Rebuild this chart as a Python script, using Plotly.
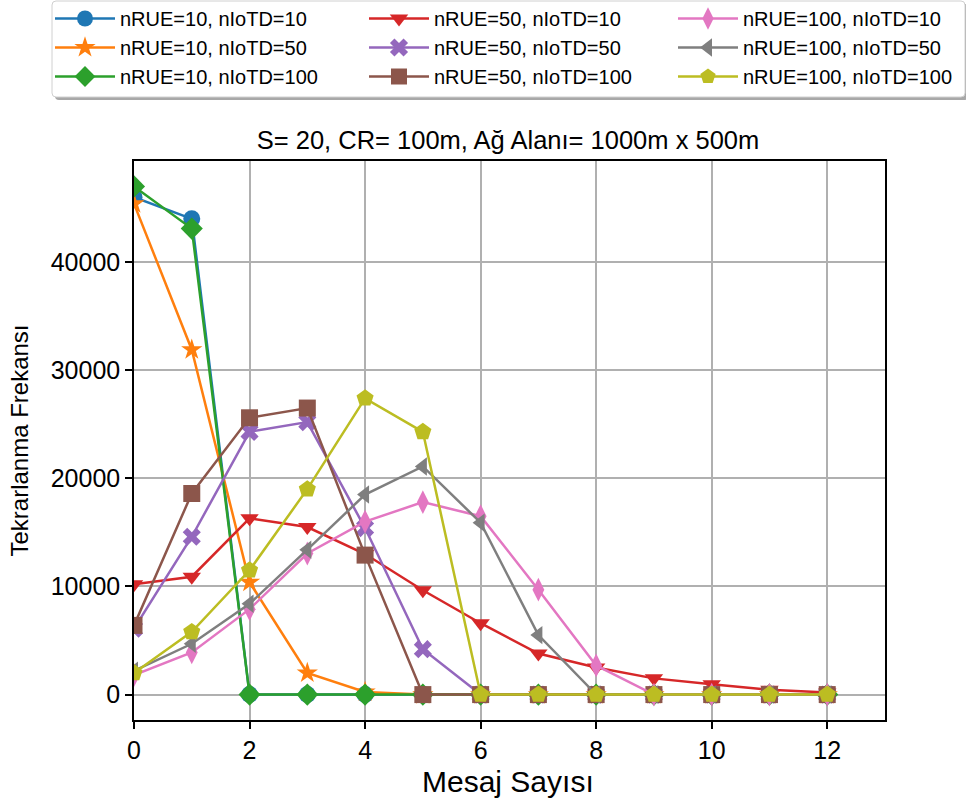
import plotly.graph_objects as go

# Message counts on the x axis
mesaj = list(range(13))

# Repetition frequency per configuration
n10_10 = [46000, 44000, 0, 0, 0, 0, 0, 0, 0, 0, 0, 0, 0]
n10_50 = [45400, 31900, 10400, 2000, 250, 0, 0, 0, 0, 0, 0, 0, 0]
n10_100 = [47000, 43100, 0, 0, 0, 0, 0, 0, 0, 0, 0, 0, 0]
n50_10 = [10200, 10900, 16300, 15500, 13000, 9650, 6600, 3800, 2500, 1500, 950, 450, 200]
n50_50 = [6100, 14600, 24300, 25200, 15400, 4200, 0, 0, 0, 0, 0, 0, 0]
n50_100 = [6400, 18600, 25600, 26500, 12900, 0, 0, 0, 0, 0, 0, 0, 0]
n100_10 = [1800, 3900, 7900, 13050, 16000, 17800, 16500, 9700, 2700, 0, 0, 0, 0]
n100_50 = [2200, 4700, 8400, 13400, 18500, 21100, 15900, 5500, 0, 0, 0, 0, 0]
n100_100 = [2000, 5800, 11500, 19000, 27400, 24300, 0, 0, 0, 0, 0, 0, 0]

labels = [
    "nRUE=10, nIoTD=10", "nRUE=10, nIoTD=50", "nRUE=10, nIoTD=100",
    "nRUE=50, nIoTD=10", "nRUE=50, nIoTD=50", "nRUE=50, nIoTD=100",
    "nRUE=100, nIoTD=10", "nRUE=100, nIoTD=50", "nRUE=100, nIoTD=100",
]
series = [n10_10, n10_50, n10_100, n50_10, n50_50, n50_100, n100_10, n100_50, n100_100]
colors = ["#1f77b4", "#ff7f0e", "#2ca02c", "#d62728", "#9467bd",
          "#8c564b", "#e377c2", "#7f7f7f", "#bcbd22"]
symbols = ["circle", "star", "diamond", "triangle-down", "x",
           "square", "diamond-tall", "triangle-left", "pentagon"]
sizes = [17, 16, 17, 16, 16, 17, 17, 16, 18]

W, H = 966, 807
L, R, T, B = 134, 81, 161, 87
pw, ph = W - L - R, H - T - B


def px_x(p):
    return (p - L) / pw


def px_y(p):
    return 1 - (p - T) / ph


legend_ids = ["legend", "legend2", "legend3"]
legend_left = [50, 364, 673]

fig = go.Figure()
for i, (name, ys) in enumerate(zip(labels, series)):
    fig.add_trace(go.Scatter(
        x=mesaj, y=ys, name=name, mode="lines+markers",
        line=dict(color=colors[i], width=2.5),
        marker=dict(symbol=symbols[i], size=sizes[i], color=colors[i],
                    line=dict(width=0)),
        legend=legend_ids[i // 3],
    ))


# legend frame with a soft drop shadow
def rounded_rect(x0, y0, x1, y1, r):
    X = lambda p: px_x(p)
    Y = lambda p: px_y(p)
    return (f"M{X(x0 + r)},{Y(y0)} L{X(x1 - r)},{Y(y0)} Q{X(x1)},{Y(y0)} {X(x1)},{Y(y0 + r)} "
            f"L{X(x1)},{Y(y1 - r)} Q{X(x1)},{Y(y1)} {X(x1 - r)},{Y(y1)} "
            f"L{X(x0 + r)},{Y(y1)} Q{X(x0)},{Y(y1)} {X(x0)},{Y(y1 - r)} "
            f"L{X(x0)},{Y(y0 + r)} Q{X(x0)},{Y(y0)} {X(x0 + r)},{Y(y0)} Z")


fig.add_shape(type="path", xref="paper", yref="paper",
              path=rounded_rect(55, 4, 968, 100, 4),
              fillcolor="#a8a8a8", line=dict(width=0), layer="below")
fig.add_shape(type="path", xref="paper", yref="paper",
              path=rounded_rect(52, 1, 965, 97, 4),
              fillcolor="white", line=dict(color="#d0d0d0", width=1), layer="below")

axis_common = dict(
    showline=True, linecolor="black", linewidth=1.5, mirror=True,
    ticks="outside", ticklen=7, tickwidth=1.5, tickcolor="black",
    showgrid=True, gridcolor="#b0b0b0", gridwidth=1.5, zeroline=False,
    tickfont=dict(family="Liberation Sans, Arial", size=25, color="black"),
)

legend_common = dict(
    orientation="v", xanchor="left", yanchor="top", y=px_y(-1),
    bgcolor="rgba(0,0,0,0)", borderwidth=0,
    font=dict(family="Liberation Sans, Arial", size=20, color="black"),
    itemwidth=60, traceorder="normal",
)

fig.add_annotation(text="Mesaj Sayısı", xref="paper", yref="paper",
                   x=px_x(508), y=px_y(763), xanchor="center", yanchor="top",
                   showarrow=False, font=dict(size=30, color="black"))

fig.update_layout(
    width=W, height=H,
    margin=dict(l=L, r=R, t=T, b=B, autoexpand=False),
    paper_bgcolor="white", plot_bgcolor="white",
    font=dict(family="Liberation Sans, Arial", color="black"),
    title=dict(text="S= 20, CR= 100m, Ağ Alanı= 1000m x 500m",
               x=508 / W, xanchor="center",
               y=1 - 140 / H, yanchor="middle",
               font=dict(size=25.5, color="black")),
    xaxis=dict(range=[0, 13], tick0=0, dtick=2, **axis_common),
    yaxis=dict(range=[-2350, 49350],
               tickvals=[0, 10000, 20000, 30000, 40000],
               ticktext=["0", "10000", "20000", "30000", "40000"],
               title=dict(text="Tekrarlanma Frekansı", font=dict(size=24), standoff=15),
               **axis_common),
    legend=dict(x=px_x(legend_left[0]), **legend_common),
    legend2=dict(x=px_x(legend_left[1]), **legend_common),
    legend3=dict(x=px_x(legend_left[2]), **legend_common),
    showlegend=True,
)

fig.write_html("out.html")
